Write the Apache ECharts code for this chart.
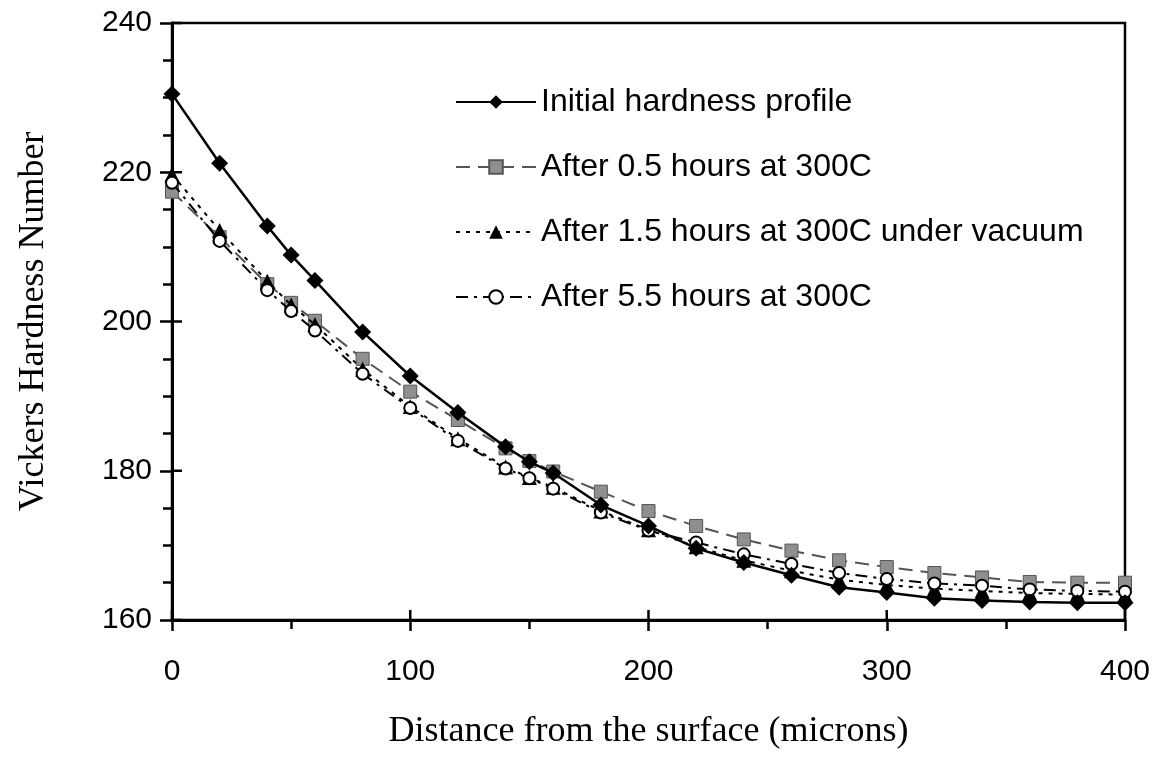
<!DOCTYPE html>
<html>
<head>
<meta charset="utf-8">
<title>Vickers hardness profiles</title>
<script src="https://cdn.jsdelivr.net/npm/echarts@6/dist/echarts.min.js"></script>
<style>
  html, body { margin: 0; padding: 0; background: #fff; }
  #chart { width: 1165px; height: 768px; }
</style>
</head>
<body>
<div id="chart"></div>
<script>
// Distance from the surface, in microns
const distances = [0, 20, 40, 50, 60, 80, 100, 120, 140, 150, 160, 180, 200, 220, 240, 260, 280, 300, 320, 340, 360, 380, 400];

// Vickers hardness readings for each heat treatment
const initialProfile = [230.5, 221.2, 212.8, 208.9, 205.5, 198.6, 192.7, 187.8, 183.2, 181.2, 179.7, 175.4, 172.6, 169.6, 167.7, 166.0, 164.4, 163.7, 162.9, 162.6, 162.4, 162.3, 162.3];
const after05h = [217.4, 211.3, 205.0, 202.5, 200.1, 195.0, 190.6, 186.8, 183.0, 181.3, 179.9, 177.2, 174.6, 172.6, 170.8, 169.3, 168.0, 167.1, 166.3, 165.7, 165.1, 165.0, 165.0];
const after15hVacuum = [219.7, 212.2, 205.4, 202.2, 199.6, 193.6, 188.6, 184.3, 180.5, 179.1, 177.8, 174.6, 172.1, 169.8, 168.0, 166.6, 165.4, 164.7, 164.2, 163.9, 163.6, 163.5, 163.4];
const after55h = [218.6, 210.8, 204.2, 201.4, 198.8, 193.0, 188.4, 184.0, 180.3, 179.0, 177.6, 174.4, 172.0, 170.4, 168.8, 167.5, 166.3, 165.5, 164.9, 164.6, 164.1, 163.9, 163.8];

const seriesNames = [
  'Initial hardness profile',
  'After 0.5 hours at 300C',
  'After 1.5 hours at 300C under vacuum',
  'After 5.5 hours at 300C'
];

// Axis settings and major tick values
const xTicks = { min: 0, max: 400, interval: 100 };
const yTicks = { min: 160, max: 240, interval: 20 };
const xMajorTicks = [0, 100, 200, 300, 400];
const yMajorTicks = [160, 180, 200, 220, 240];
const xTitle = 'Distance from the surface (microns)';
const yTitle = 'Vickers Hardness Number';

const pairs = (vals) => distances.map((d, i) => [d, vals[i]]);

const sans = 'Liberation Sans, Arial, Helvetica, sans-serif';
const serif = 'Liberation Serif, Times New Roman, serif';

const gridBox = { left: 172, right: 40, top: 23, bottom: 148 };
const tickStyle = { color: '#000', width: 2.5 };
const innerTickLen = 10;

// Inner halves of the major ticks, so they cross the axis lines
function innerTick(horizontalAxis) {
  return function (params, api) {
    const p = api.coord([api.value(0), api.value(1)]);
    const shape = horizontalAxis
      ? { x1: p[0], y1: p[1], x2: p[0], y2: p[1] - innerTickLen }
      : { x1: p[0], y1: p[1], x2: p[0] + innerTickLen, y2: p[1] };
    return { type: 'line', shape: shape, style: { stroke: '#000', lineWidth: 2.5 } };
  };
}

const chart = echarts.init(document.getElementById('chart'), null, { renderer: 'canvas' });

chart.setOption({
  backgroundColor: '#ffffff',
  animation: false,
  grid: Object.assign({ show: true, borderColor: '#000', borderWidth: 2.5, backgroundColor: 'transparent', containLabel: false }, gridBox),
  legend: {
    orient: 'vertical',
    left: 450,
    top: 79,
    itemWidth: 80,
    itemHeight: 17,
    itemGap: 29,
    data: seriesNames,
    textStyle: { fontFamily: sans, fontSize: 32, color: '#000', lineHeight: 36 }
  },
  xAxis: {
    type: 'value', position: 'bottom',
    min: xTicks.min, max: xTicks.max, interval: xTicks.interval,
    name: xTitle, nameLocation: 'middle', nameGap: 94,
    nameTextStyle: { fontFamily: serif, fontSize: 36, color: '#000' },
    axisLine: { show: true, onZero: false, lineStyle: { color: '#000', width: 3 } },
    axisTick: { show: true, inside: false, length: 11, lineStyle: tickStyle },
    minorTick: { show: true, splitNumber: 2, length: 9, lineStyle: tickStyle },
    axisLabel: { fontFamily: sans, fontSize: 30, color: '#000', margin: 37 },
    splitLine: { show: false }
  },
  yAxis: {
    type: 'value', position: 'left',
    min: yTicks.min, max: yTicks.max, interval: yTicks.interval,
    name: yTitle, nameLocation: 'middle', nameGap: 120, nameRotate: 90,
    nameTextStyle: { fontFamily: serif, fontSize: 36, color: '#000' },
    axisLine: { show: true, onZero: false, lineStyle: { color: '#000', width: 3 } },
    axisTick: { show: true, inside: false, length: 12, lineStyle: tickStyle },
    minorTick: { show: true, splitNumber: 4, length: 9, lineStyle: tickStyle },
    axisLabel: { fontFamily: sans, fontSize: 30, color: '#000', margin: 20 },
    splitLine: { show: false }
  },
  series: [
    {
      name: seriesNames[0], type: 'line', z: 6,
      data: pairs(initialProfile),
      symbol: 'diamond', symbolSize: 17,
      itemStyle: { color: '#000' },
      lineStyle: { color: '#000', width: 2.5, type: 'solid' }
    },
    {
      name: seriesNames[1], type: 'line', z: 3,
      data: pairs(after05h),
      symbol: 'rect', symbolSize: 13,
      itemStyle: { color: '#8f8f8f', borderColor: '#555', borderWidth: 1 },
      lineStyle: { color: '#555', width: 2, type: [14, 8] }
    },
    {
      name: seriesNames[2], type: 'line', z: 4,
      data: pairs(after15hVacuum),
      symbol: 'triangle', symbolSize: 15,
      itemStyle: { color: '#000' },
      lineStyle: { color: '#000', width: 2, type: [4, 6] }
    },
    {
      name: seriesNames[3], type: 'line', z: 5,
      data: pairs(after55h),
      symbol: 'circle', symbolSize: 12,
      itemStyle: { color: '#fff', borderColor: '#000', borderWidth: 2 },
      lineStyle: { color: '#000', width: 2, type: [12, 6, 3, 6] }
    },
    {
      name: 'x-major-inner', type: 'custom', silent: true, z: 2, clip: false,
      data: xMajorTicks.map((v) => [v, yTicks.min]),
      renderItem: innerTick(true)
    },
    {
      name: 'y-major-inner', type: 'custom', silent: true, z: 2, clip: false,
      data: yMajorTicks.map((v) => [xTicks.min, v]),
      renderItem: innerTick(false)
    }
  ]
});
</script>
</body>
</html>
